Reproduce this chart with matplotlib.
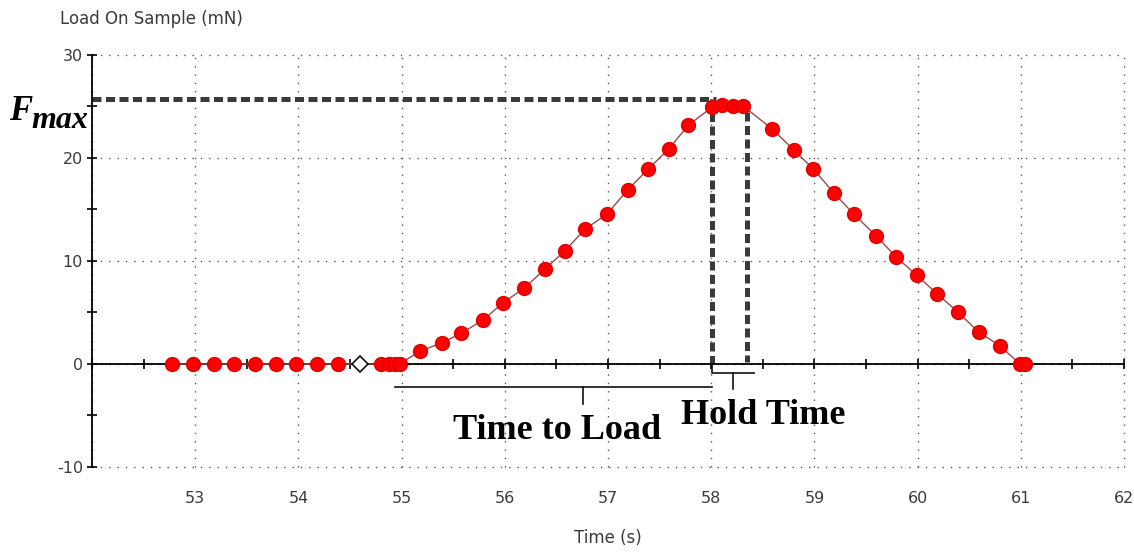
import matplotlib
matplotlib.use("Agg")
import matplotlib.pyplot as plt
import numpy as np
from matplotlib.ticker import MultipleLocator

plt.rcParams['axes.unicode_minus'] = False

# load curve samples (time in s, load in mN)
t_flat = [52.78, 52.98, 53.18, 53.38, 53.58, 53.78, 53.98, 54.18, 54.38]
f_flat = [0, 0, 0, 0, 0, 0, 0, 0, 0]
t_start = 54.60   # open diamond = start of test segment
f_start = 0
t_curve = [54.80, 54.88, 54.94, 54.98,
           55.18, 55.39, 55.58, 55.79, 55.98, 56.19, 56.39, 56.58, 56.78,
           56.99, 57.19, 57.39, 57.59, 57.78, 58.01, 58.10, 58.21, 58.31,
           58.59, 58.80, 58.99, 59.19, 59.38, 59.60, 59.79, 59.99, 60.19,
           60.39, 60.59, 60.80, 60.99, 61.04]
f_curve = [0, 0, 0, 0,
           1.26, 2.04, 3.0, 4.27, 5.92, 7.38, 9.22, 10.97, 13.11,
           14.56, 16.9, 18.93, 20.9, 23.2, 24.95, 25.15, 25.05, 25.05,
           22.82, 20.78, 18.93, 16.6, 14.56, 12.43, 10.39, 8.64, 6.8,
           5.05, 3.11, 1.75, 0, 0]

# annotation geometry
f_max = 25.7
t_load_start = 54.94
t_hold_start = 58.01
t_hold_end = 58.35
t_hold_bracket_end = 58.41
hold_top = 24.5

x_ticks = [53, 54, 55, 56, 57, 58, 59, 60, 61, 62]
y_ticks = [-10, 0, 10, 20, 30]

label_font = 'DejaVu Sans'
label_color = '#3a3a3a'

fig = plt.figure(figsize=(11.34, 5.55), dpi=100)
ax = fig.add_axes([0.0811, 0.1586, 0.9101, 0.7423])
ax.set_xlim(52, 62)
ax.set_ylim(-10, 30)

ax.spines['top'].set_visible(False)
ax.spines['right'].set_visible(False)
ax.spines['bottom'].set_position(('data', 0))
ax.spines['bottom'].set_linewidth(1.3)
ax.spines['left'].set_linewidth(1.3)

ax.xaxis.set_major_locator(MultipleLocator(1))
ax.xaxis.set_minor_locator(MultipleLocator(0.5))
ax.yaxis.set_major_locator(MultipleLocator(10))
ax.yaxis.set_minor_locator(MultipleLocator(5))
ax.tick_params(axis='x', which='both', direction='inout', length=7, width=1.2,
               labelbottom=False)
ax.tick_params(axis='y', which='both', direction='inout', length=7, width=1.2,
               labelsize=11.5, labelcolor=label_color, pad=3)
ax.set_yticks(y_ticks)
for lab in ax.get_yticklabels():
    lab.set_fontfamily(label_font)

ax.grid(True, which='major', linestyle=(0, (1, 5)), color='#555555',
        linewidth=1.0, zorder=0)
for gl in ax.get_xgridlines() + ax.get_ygridlines():
    gl.set_clip_on(False)

# time labels sit along the bottom edge, axis line stays at zero load
sec = ax.secondary_xaxis('bottom')
sec.set_xticks(x_ticks)
sec.spines['bottom'].set_visible(False)
sec.tick_params(length=0, pad=17, labelsize=11.5, labelcolor=label_color)
for lab in sec.get_xticklabels():
    lab.set_fontfamily(label_font)

# F_max guide and hold-time verticals
dash_kw = dict(color='#3a3a3a', linewidth=3.6, dashes=(1.8, 0.9),
               solid_capstyle='butt', dash_capstyle='butt', zorder=2)
ax.plot([52, t_hold_start + 0.04], [f_max, f_max], **dash_kw)
ax.plot([t_hold_start, t_hold_start], [f_max, 0], **dash_kw)
ax.plot([t_hold_end, t_hold_end], [hold_top, 0.2], **dash_kw)

# brackets for the loading and hold segments
br_kw = dict(color='#111111', linewidth=1.2, zorder=3, clip_on=False)
load_mid = (t_load_start + t_hold_start) / 2 + 0.28
ax.plot([t_load_start, t_hold_start], [-2.2, -2.2], **br_kw)
ax.plot([load_mid, load_mid], [-2.2, -3.9], **br_kw)
hold_mid = (t_hold_start + t_hold_bracket_end) / 2
ax.plot([t_hold_start, t_hold_start, t_hold_bracket_end],
        [0, -0.85, -0.85], **br_kw)
ax.plot([hold_mid, hold_mid], [-0.85, -2.4], **br_kw)

# measured load curve
ax.plot(t_flat + [t_start] + t_curve, f_flat + [f_start] + f_curve,
        color='#9a4a4a', linewidth=1.0, zorder=4)
ax.plot(t_flat, f_flat, 'o', color='#ff0000', markeredgecolor='#e00000',
        markersize=10, zorder=5)
ax.plot(t_curve, f_curve, 'o', color='#ff0000', markeredgecolor='#e00000',
        markersize=10, zorder=5)
ax.plot([t_start], [f_start], 'D', markerfacecolor='white',
        markeredgecolor='#111111', markersize=8.5, markeredgewidth=1.2, zorder=6)

txt_kw = dict(fontfamily='Liberation Serif', fontweight='bold', fontsize=26,
              color='black', va='baseline', ha='center')
ax.text(56.51, -7.3, 'Time to Load', **txt_kw)
ax.text(58.50, -5.85, 'Hold Time', **txt_kw)

fig.text(9 / 1134, 1 - 120 / 555, 'F', fontfamily='Liberation Serif',
         fontweight='bold', fontstyle='italic', fontsize=25, va='baseline')
fig.text(31 / 1134, 1 - 128 / 555, 'max', fontfamily='Liberation Serif',
         fontweight='bold', fontstyle='italic', fontsize=23, va='baseline')

fig.text(60 / 1134, 1 - 19 / 555, 'Load On Sample (mN)',
         fontfamily=label_font, fontsize=12, color=label_color, va='center')
fig.text(608 / 1134, 1 - 538 / 555, 'Time (s)', fontfamily=label_font,
         fontsize=12, color=label_color, va='center', ha='center')

fig.savefig('out.png', dpi=100)
